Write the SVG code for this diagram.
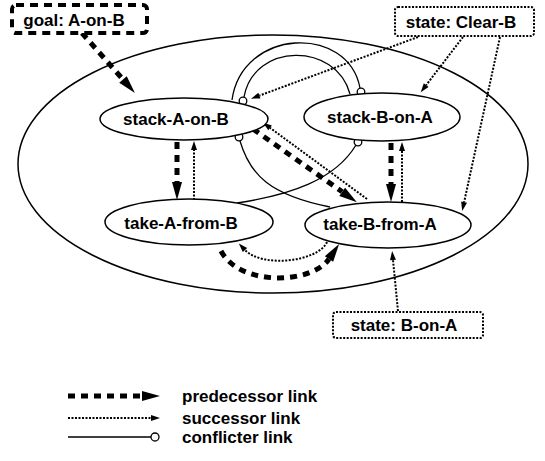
<svg xmlns="http://www.w3.org/2000/svg" width="545" height="461" viewBox="0 0 545 461">
<style>
.bg{fill:white}
.big{fill:none;stroke:black;stroke-width:1.5}
.node ellipse{fill:white;stroke:black;stroke-width:1.5}
.lbl{font-family:"Liberation Sans",Arial,Helvetica,sans-serif;font-weight:bold;font-size:17px;text-anchor:middle;fill:black}
.leg{font-family:"Liberation Sans",Arial,Helvetica,sans-serif;font-weight:bold;font-size:17px;fill:black}
.goalbox{fill:white;stroke:black;stroke-width:4;stroke-dasharray:8 6}
.statebox{fill:white;stroke:black;stroke-width:2;stroke-dasharray:2 1.5}
.pred{fill:none;stroke:black;stroke-width:5;stroke-dasharray:7 6}
.succ{fill:none;stroke:black;stroke-width:2;stroke-dasharray:2 1.5}
.conf{fill:none;stroke:black;stroke-width:1.3}
.cc{fill:white;stroke:black;stroke-width:1.3}
</style>
<defs>
<marker id="pa" markerUnits="userSpaceOnUse" markerWidth="18" markerHeight="10" refX="0" refY="5" orient="auto" overflow="visible"><path d="M0,0 L18,5 L0,10 z" fill="black"/></marker>
<marker id="sa" markerUnits="userSpaceOnUse" markerWidth="9" markerHeight="6" refX="0" refY="3" orient="auto" overflow="visible"><path d="M0,0 L9,3 L0,6 z" fill="black"/></marker>
</defs>
<rect class="bg" x="0" y="0" width="545" height="461"/>
<ellipse id="plan" class="big" cx="273" cy="164" rx="255" ry="129"/>

<g id="connectors">
<!-- conflicter links -->
<path class="conf" d="M232,100 C242,28 348,24 360,88"/>
<circle class="cc" cx="361" cy="92" r="3.8"/>
<path class="conf" d="M244,97 C254,42 336,42 350,94"/>
<circle class="cc" cx="243" cy="101" r="3.8"/>
<path class="conf" d="M240,141 C250,175 270,195 330,207"/>
<circle class="cc" cx="239" cy="137" r="3.8"/>
<path class="conf" d="M356,145 C335,180 290,195 237,203"/>
<circle class="cc" cx="358" cy="142" r="3.8"/>
<!-- predecessor links -->
<path class="pred" d="M82,33 L123,79.5" marker-end="url(#pa)"/>
<path class="pred" d="M177,142 L177,182" marker-end="url(#pa)"/>
<path class="pred" d="M391,143 L391,184" marker-end="url(#pa)"/>
<path class="pred" d="M253,129 L342.2,191.8" marker-end="url(#pa)"/>
<path class="pred" d="M221,251 C240,287 312,284 329,259" marker-end="url(#pa)"/>
<!-- successor links -->
<path class="succ" d="M418,37 L259.4,95.6" marker-end="url(#sa)"/>
<path class="succ" d="M463,37 L426.2,85.1" marker-end="url(#sa)"/>
<path class="succ" d="M500,37 L464.1,202.2" marker-end="url(#sa)"/>
<path class="succ" d="M194,200 L194,150" marker-end="url(#sa)"/>
<path class="succ" d="M402,202 L402,151" marker-end="url(#sa)"/>
<path class="succ" d="M367,199 L270.1,127.9" marker-end="url(#sa)"/>
<path class="succ" d="M327,242 C318,262 262,268 245,250" marker-end="url(#sa)"/>
<path class="succ" d="M398,311 L393,260" marker-end="url(#sa)"/>
</g>

<g id="goal">
<rect class="goalbox" x="12" y="5" width="135" height="28" rx="4"/>
<text class="lbl" x="74" y="26">goal: A-on-B</text>
</g>
<g id="state-clear-b">
<rect class="statebox" x="395" y="7" width="139" height="29" rx="3"/>
<text class="lbl" x="461" y="28">state: Clear-B</text>
</g>
<g id="state-b-on-a">
<rect class="statebox" x="333" y="312" width="150" height="26" rx="3"/>
<text class="lbl" x="404" y="331">state: B-on-A</text>
</g>
<g id="stack-A-on-B" class="node">
<ellipse cx="184" cy="119" rx="84" ry="21"/>
<text class="lbl" x="176" y="125">stack-A-on-B</text>
</g>
<g id="stack-B-on-A" class="node">
<ellipse cx="382" cy="117" rx="78" ry="24"/>
<text class="lbl" x="380" y="123">stack-B-on-A</text>
</g>
<g id="take-A-from-B" class="node">
<ellipse cx="189" cy="222" rx="84" ry="23"/>
<text class="lbl" x="181" y="229">take-A-from-B</text>
</g>
<g id="take-B-from-A" class="node">
<ellipse cx="388" cy="225" rx="83" ry="23"/>
<text class="lbl" x="380" y="230">take-B-from-A</text>
</g>

<g id="legend">
<path class="pred" d="M68,396 L142,396" marker-end="url(#pa)"/>
<text class="leg" x="182" y="402">predecessor link</text>
<path class="succ" d="M68,418 L151,418" marker-end="url(#sa)"/>
<text class="leg" x="182" y="424">successor link</text>
<path class="conf" d="M68,437 L151,437"/>
<circle class="cc" cx="155" cy="437" r="4"/>
<text class="leg" x="182" y="443">conflicter link</text>
</g>
</svg>
